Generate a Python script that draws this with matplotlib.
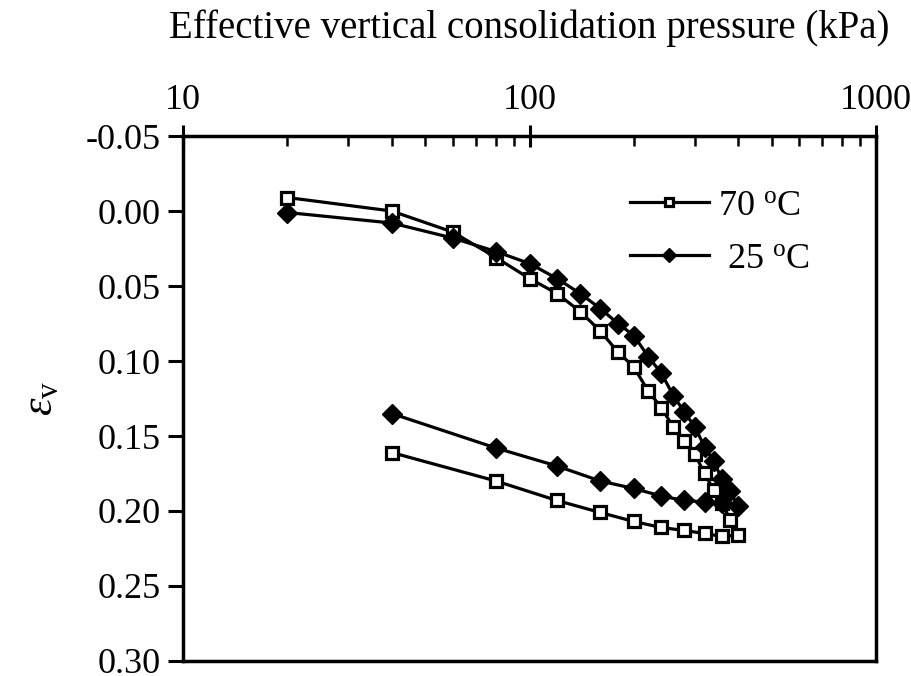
import matplotlib
matplotlib.use("Agg")
import matplotlib.pyplot as plt
from matplotlib.ticker import FixedLocator, FuncFormatter, LogLocator, NullFormatter

# ---- data ----
p_70 = [20, 40, 60, 80, 100, 120, 140, 160, 180, 200, 220, 240, 260, 280, 300, 320, 340, 360, 380, 400,
        360, 320, 280, 240, 200, 160, 120, 80, 40]
ev_70 = [-0.009, 0.000, 0.014, 0.031, 0.045, 0.055, 0.067, 0.080, 0.094, 0.104, 0.120, 0.131, 0.144, 0.153,
         0.162, 0.175, 0.186, 0.195, 0.206, 0.216,
         0.217, 0.215, 0.213, 0.211, 0.207, 0.201, 0.193, 0.180, 0.161]
p_25 = [20, 40, 60, 80, 100, 120, 140, 160, 180, 200, 220, 240, 260, 280, 300, 320, 340, 360, 380, 400,
        360, 320, 280, 240, 200, 160, 120, 80, 40]
ev_25 = [0.001, 0.008, 0.018, 0.027, 0.035, 0.045, 0.055, 0.065, 0.075, 0.083, 0.097, 0.108, 0.123, 0.134,
         0.144, 0.157, 0.167, 0.179, 0.187, 0.197,
         0.195, 0.194, 0.193, 0.190, 0.185, 0.180, 0.170, 0.158, 0.135]
x_ticks = [10, 100, 1000]
y_ticks = [-0.05, 0.00, 0.05, 0.10, 0.15, 0.20, 0.25, 0.30]
labels = ["70 $^\\mathregular{o}$C", " 25 $^\\mathregular{o}$C"]

plt.rcParams['font.family'] = ['Liberation Serif', 'DejaVu Serif']
plt.rcParams['mathtext.fontset'] = 'custom'
plt.rcParams['mathtext.rm'] = 'Liberation Serif'
plt.rcParams['mathtext.it'] = 'Liberation Serif:italic'

fig = plt.figure(figsize=(9.12, 6.76), dpi=100)
ax = fig.add_axes([0.2007, 0.0222, 0.7598, 0.7766])

ax.plot(p_70, ev_70, color='black', lw=2.3, marker='s', ms=8.5, mfc='white', mec='black', mew=2.3,
        label=labels[0])
ax.plot(p_25, ev_25, color='black', lw=2.3, marker='D', ms=10, mfc='black', mec='black',
        label=labels[1])

ax.set_xscale('log')
ax.set_xlim(10, 1000)
ax.set_ylim(0.30, -0.05)

ax.xaxis.tick_top()
ax.xaxis.set_label_position('top')
ax.xaxis.set_major_locator(FixedLocator(x_ticks))
ax.xaxis.set_major_formatter(FuncFormatter(lambda v, pos: f"{int(v)}"))
ax.xaxis.set_minor_locator(LogLocator(base=10, subs=range(2, 10)))
ax.xaxis.set_minor_formatter(NullFormatter())
ax.tick_params(axis='x', which='major', direction='inout', length=16, width=2.2, labelsize=26, pad=6)
ax.tick_params(axis='x', which='minor', direction='in', length=7, width=1.8)

ax.yaxis.set_major_locator(FixedLocator(y_ticks))
ax.yaxis.set_major_formatter(FuncFormatter(lambda v, pos: f"{v:.2f}".replace('\u2212', '-') if abs(v) > 1e-9 else "0.00"))
ax.tick_params(axis='y', which='major', direction='out', length=11, width=2.2, labelsize=26, pad=5)

for s in ax.spines.values():
    s.set_linewidth(2.5)

ax.set_xlabel("Effective vertical consolidation pressure (kPa)", fontsize=28, labelpad=33)
ax.set_ylabel("$\\varepsilon_\\mathregular{v}$", fontsize=32, labelpad=18)

leg = ax.legend(loc='upper right', bbox_to_anchor=(0.952, 0.96), frameon=False, fontsize=26,
                handlelength=2.2, handletextpad=0.25, labelspacing=0.55,
                markerscale=0.7)

fig.savefig('out.png', dpi=100)
